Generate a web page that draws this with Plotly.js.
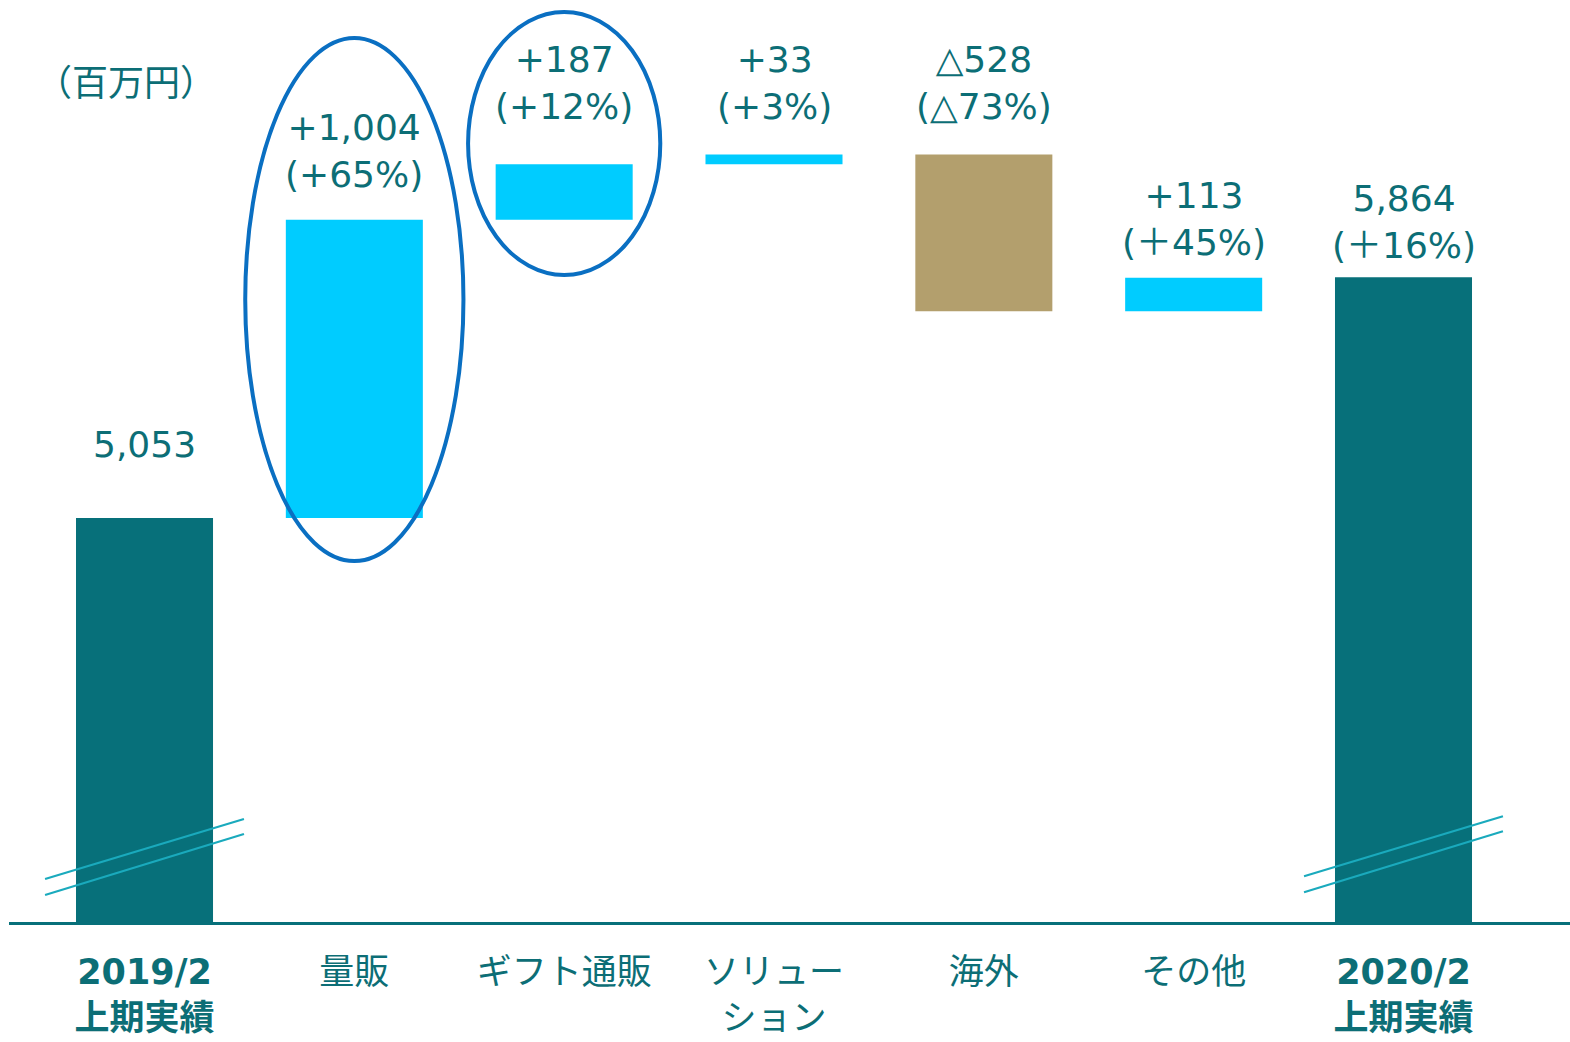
<!DOCTYPE html>
<html>
<head>
<meta charset="utf-8">
<script src="https://cdn.plot.ly/plotly-3.0.1.min.js"></script>
<style>html,body{margin:0;padding:0;background:#fff;}#chart{width:1570px;height:1042px;}</style>
</head>
<body>
<div id="chart"></div>
<script>
// ---- data ----
const categories = ['2019/2 上期実績', '量販', 'ギフト通販', 'ソリューション', '海外', 'その他', '2020/2 上期実績'];
const tickLabels = ['<b><span style="font-family:DejaVu Sans">2019/2</span></b><br><b>上期実績</b>', '量販', 'ギフト通販', 'ソリュー<br>ション', '海外', 'その他', '<b><span style="font-family:DejaVu Sans">2020/2</span></b><br><b>上期実績</b>'];
const measures = ['absolute', 'relative', 'relative', 'relative', 'relative', 'relative', 'absolute'];
const values = [5053, 1004, 187, 33, -528, 113, 5864];
const valueLabels = ['5,053', '+1,004', '+187', '+33', '△528', '+113', '5,864'];
const pctLabels = [null, '(+65%)', '(+12%)', '(+3%)', '(△73%)', '(＋45%)', '(＋16%)'];
const unitLabel = '（百万円）';

// ---- styles ----
const TEAL = '#07707A';
const TEXT = '#0C6E76';
const CYAN = '#00CCFF';
const TAN = '#B39F6D';
const RING = '#0A6FC2';
const BREAK = '#1AAABD';
const NUMFONT = 'DejaVu Sans, Noto Sans CJK JP, sans-serif';
const JPFONT = 'Noto Sans CJK JP, sans-serif';

// bar tops (for placing labels) derived from the waterfall logic
const tops = [];
let run = 0;
for (let i = 0; i < values.length; i++) {
  let start, end;
  if (measures[i] === 'absolute') { start = 0; end = values[i]; }
  else { start = run; end = run + values[i]; }
  run = end;
  tops.push(Math.max(start, end));
}
const labelShift = [51, 23, 35, 25, 25, 13, 9];

const annotations = categories.map((c, i) => ({
  x: c, y: tops[i], xref: 'x', yref: 'y',
  text: pctLabels[i] ? valueLabels[i] + '<br>' + pctLabels[i] : valueLabels[i],
  showarrow: false, xanchor: 'center', yanchor: 'bottom', yshift: labelShift[i],
  font: {family: NUMFONT, size: 36, color: TEXT}
}));
annotations.push({
  x: 0.075, y: 0.913, xref: 'paper', yref: 'paper', text: unitLabel,
  showarrow: false, xanchor: 'center', yanchor: 'middle',
  font: {family: JPFONT, size: 36, color: TEXT}
});

const shapes = [
  {type: 'circle', xref: 'x', yref: 'paper', x0: 0.48, x1: 1.52, y0: 0.3915, y1: 0.9588,
   line: {color: RING, width: 4}, fillcolor: 'rgba(0,0,0,0)'},
  {type: 'circle', xref: 'x', yref: 'paper', x0: 2 - 0.458, x1: 2 + 0.458, y0: 0.7017, y1: 0.987,
   line: {color: RING, width: 4}, fillcolor: 'rgba(0,0,0,0)'}
];
[0, 6].forEach(ci => {
  const off = ci === 0 ? 0 : 0.003;
  shapes.push({type: 'line', xref: 'x', yref: 'paper', x0: ci - 0.474, x1: ci + 0.474,
    y0: 0.0466 + off, y1: 0.1117 + off, line: {color: BREAK, width: 2.2}});
  shapes.push({type: 'line', xref: 'x', yref: 'paper', x0: ci - 0.474, x1: ci + 0.474,
    y0: 0.0293 + off, y1: 0.0954 + off, line: {color: BREAK, width: 2.2}});
});

const trace = {
  type: 'waterfall',
  x: categories,
  y: values,
  measure: measures,
  increasing: {marker: {color: CYAN, line: {width: 0}}},
  decreasing: {marker: {color: TAN, line: {width: 0}}},
  totals: {marker: {color: TEAL, line: {width: 0}}},
  connector: {visible: false},
  textinfo: 'none',
  hoverinfo: 'skip'
};

const layout = {
  width: 1570, height: 1042,
  margin: {l: 9, r: 0, t: 0, b: 120},
  paper_bgcolor: '#fff', plot_bgcolor: '#fff',
  showlegend: false,
  waterfallgap: 0.347,
  xaxis: {
    type: 'category', range: [-0.6458, 6.7935],
    tickvals: categories, ticktext: tickLabels,
    showgrid: false, zeroline: false, ticks: '',
    showline: true, linecolor: TEAL, linewidth: 3,
    ticklabelstandoff: 17,
    tickfont: {family: JPFONT, size: 35, color: TEXT},
    fixedrange: true
  },
  yaxis: {
    range: [3693, 6797], visible: false, showgrid: false, zeroline: false, fixedrange: true
  },
  annotations: annotations,
  shapes: shapes
};

Plotly.newPlot('chart', [trace], layout, {displayModeBar: false, staticPlot: true});
</script>
</body>
</html>
